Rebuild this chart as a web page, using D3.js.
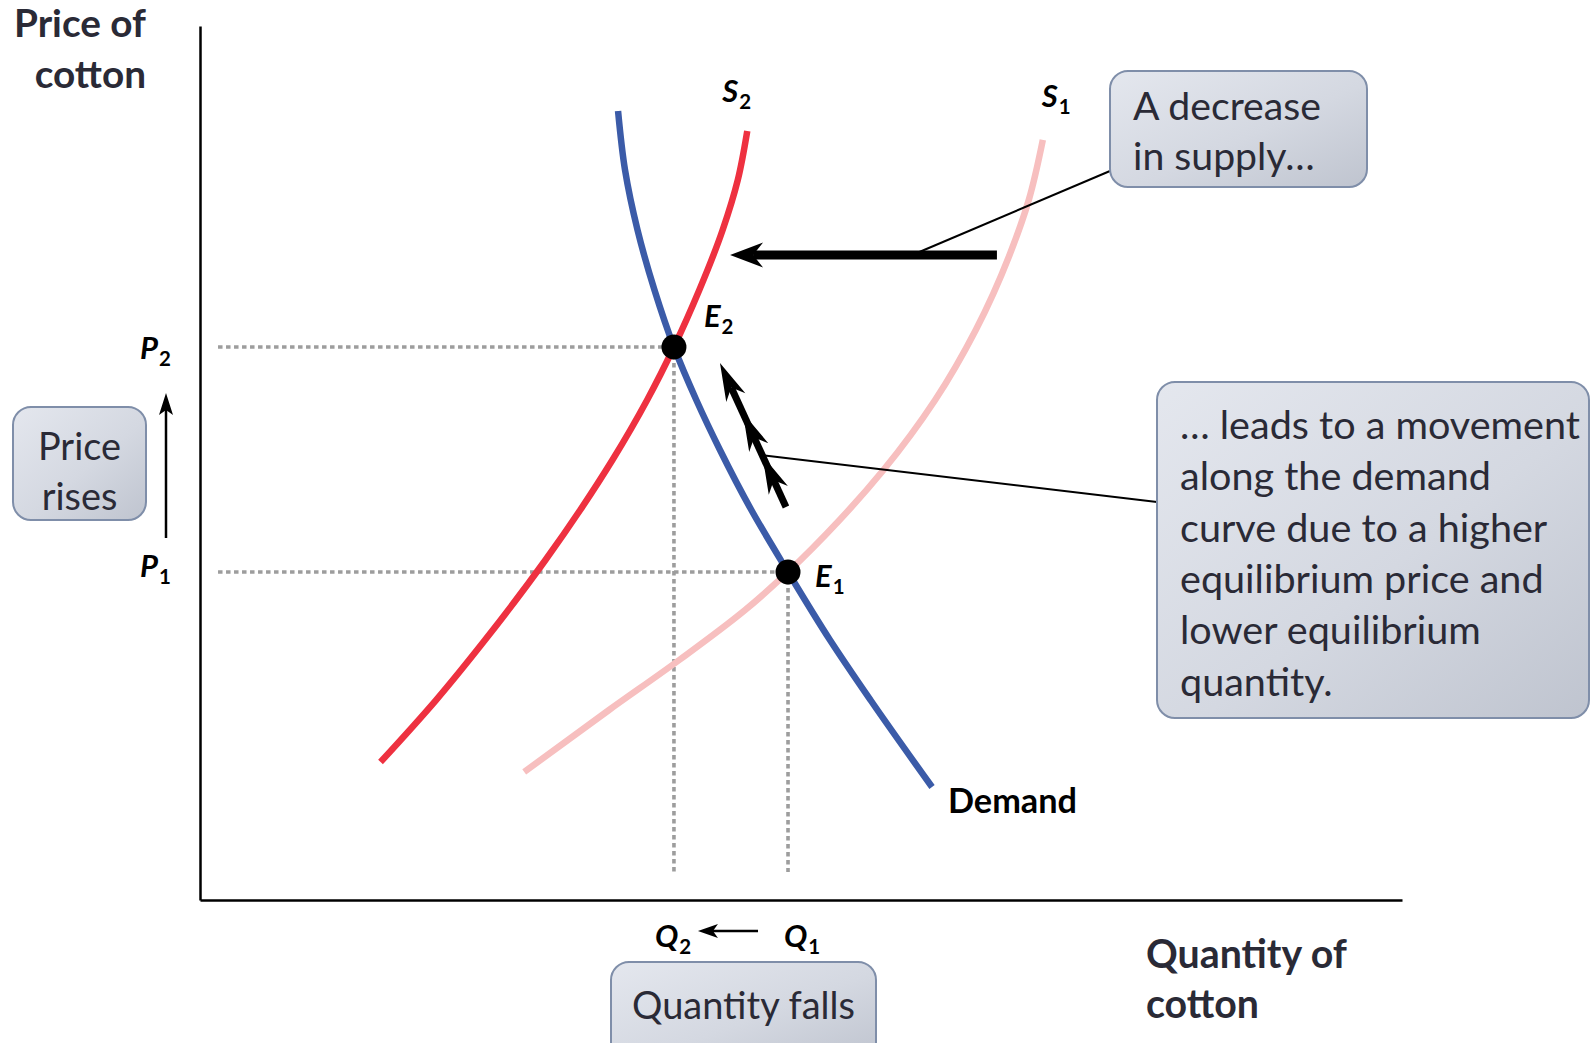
<!DOCTYPE html>
<html><head><meta charset="utf-8">
<script src="https://cdn.jsdelivr.net/npm/d3@7"></script>
<style>body{margin:0;background:#fff}svg{display:block}</style>
</head><body>
<svg id="c" width="1595" height="1043"></svg>
<script>
// ---------- data (quantity, price) in chart units ----------
const quantityDomain = [0, 100];
const priceDomain = [0, 100];
const demandCurve  = [[34.78,90.27],[35.36,83.52],[36.40,76.66],[37.81,69.79],[39.43,63.27],[41.29,57.21],
                      [43.26,51.49],[45.87,44.62],[48.92,37.53],[52.41,29.75],[55.78,22.88],[60.90,12.93]];
const supply2Curve = [[45.53,87.99],[44.74,82.38],[43.48,76.66],[41.54,69.79],[39.43,63.27],[37.20,57.21],
                      [34.31,50.34],[31.63,44.62],[28.74,38.90],[23.71,29.75],[19.64,22.88],[15.02,15.79]];
const supply1Curve = [[70.12,86.96],[68.95,80.09],[67.35,73.80],[64.54,65.22],[61.16,57.21],[56.86,49.20],
                      [53.21,43.48],[48.92,37.53],[45.35,33.18],[39.87,27.46],[34.03,21.74],[26.97,14.65]];
const equilibria = [
  {label:"E", sub:"2", q:39.43, p:63.27},
  {label:"E", sub:"1", q:48.92, p:37.53}
];
const priceTicks = [{label:"P", sub:"2", p:63.27}, {label:"P", sub:"1", p:37.53}];
const quantityTicks = [{label:"Q", sub:"2", q:39.43}, {label:"Q", sub:"1", q:48.92}];
const shiftArrow = {from:[66.3,73.8], to:[44.1,73.8]};
const moveArrow = {from:[48.75,44.97], to:[43.26,61.44]};
const boxTexts = {
  price: ["Price","rises"],
  supply: ["A decrease","in supply…"],
  move: ["… leads to a movement","along the demand","curve due to a higher","equilibrium price and","lower equilibrium","quantity."],
  quantity: ["Quantity falls"]
};

// ---------- setup ----------
const svg = d3.select('#c');
const x = d3.scaleLinear().domain(quantityDomain).range([200,1402]);
const y = d3.scaleLinear().domain(priceDomain).range([900,26]);
const FONT = "Lato, 'Open Sans', sans-serif";
const DARK = "#2a2a36";

const defs = svg.append('defs');
const grad = defs.append('linearGradient').attr('id','boxg')
  .attr('x1','0').attr('y1','0').attr('x2','1').attr('y2','1');
grad.append('stop').attr('offset','0').attr('stop-color','#e4e7ee');
grad.append('stop').attr('offset','0.55').attr('stop-color','#d4d8e1');
grad.append('stop').attr('offset','1').attr('stop-color','#bfc4cf');

function fitText(textSel, refSpan, target){
  textSel.attr('font-size',34);
  const w = refSpan.node().getComputedTextLength();
  textSel.attr('font-size',34*target/w);
}

// ---------- axes ----------
svg.append('g').attr('transform',`translate(0,${y(0)})`)
  .call(d3.axisBottom(x).tickValues([]).tickSizeOuter(0))
  .select('.domain').attr('stroke','#000').attr('stroke-width',2.5);
svg.append('g').attr('transform',`translate(${x(0)},0)`)
  .call(d3.axisLeft(y).tickValues([]).tickSizeOuter(0))
  .select('.domain').attr('stroke','#000').attr('stroke-width',2.5);

// ---------- dotted guides ----------
const guideG = svg.append('g').attr('stroke','#9d9d9d').attr('stroke-width',3.6)
  .attr('stroke-dasharray','4.5,3.5').attr('fill','none');
equilibria.forEach(e=>{
  guideG.append('line').attr('x1',x(1.5)).attr('x2',x(e.q)).attr('y1',y(e.p)).attr('y2',y(e.p));
  guideG.append('line').attr('x1',x(e.q)).attr('x2',x(e.q)).attr('y1',y(e.p)).attr('y2',y(3.2));
});

// ---------- curves ----------
const line = d3.line().x(d=>x(d[0])).y(d=>y(d[1])).curve(d3.curveMonotoneY);
const sortY = c => c.slice().sort((a,b)=>y(a[1])-y(b[1]));
[[supply1Curve,'#f7bfbf'],[supply2Curve,'#ee3140'],[demandCurve,'#3b5ba8']].forEach(([c,col])=>{
  svg.append('path').attr('d',line(sortY(c))).attr('fill','none').attr('stroke',col).attr('stroke-width',6.5);
});

// ---------- equilibrium dots ----------
svg.selectAll('.eq').data(equilibria).enter().append('circle')
  .attr('cx',d=>x(d.q)).attr('cy',d=>y(d.p)).attr('r',12.5).attr('fill','#000');

function subLabel(g, px, py, letter, sub, size, color){
  const t = g.append('text').attr('x',px).attr('y',py).attr('font-family',FONT)
    .attr('font-weight',700).attr('fill',color||'#000').attr('font-size',size);
  t.append('tspan').attr('font-style','italic').text(letter);
  t.append('tspan').attr('font-size',size*0.66).attr('dy',7).attr('dx',1).text(sub);
  return t;
}
const lab = svg.append('g');
subLabel(lab, x(supply2Curve[0][0])-25, y(supply2Curve[0][1])-29, "S","2",31);
subLabel(lab, x(supply1Curve[0][0])-1, y(supply1Curve[0][1])-33, "S","1",31);
subLabel(lab, x(equilibria[0].q)+30, y(equilibria[0].p)-20, "E","2",31);
subLabel(lab, x(equilibria[1].q)+27, y(equilibria[1].p)+15, "E","1",31);
subLabel(lab, 140, y(priceTicks[0].p)+12, priceTicks[0].label, priceTicks[0].sub, 31);
subLabel(lab, 140, y(priceTicks[1].p)+5, priceTicks[1].label, priceTicks[1].sub, 31);
subLabel(lab, x(quantityTicks[0].q)-19, 947, quantityTicks[0].label, quantityTicks[0].sub, 31);
subLabel(lab, x(quantityTicks[1].q)-4, 947, quantityTicks[1].label, quantityTicks[1].sub, 31);

const last = demandCurve[demandCurve.length-1];
const dl = svg.append('text').attr('x',x(last[0])+16).attr('y',y(last[1])+26)
  .attr('font-family',FONT).attr('font-weight',700).attr('fill','#000').text('Demand');
fitText(dl, dl, 129);

const pt = svg.append('text').attr('font-family',FONT).attr('font-weight',700).attr('fill',DARK)
  .attr('text-anchor','end');
const pt1 = pt.append('tspan').attr('x',146).attr('y',37).text('Price of');
pt.append('tspan').attr('x',146).attr('y',88).text('cotton');
fitText(pt, pt1, 132);
const qt = svg.append('text').attr('font-family',FONT).attr('font-weight',700).attr('fill',DARK);
const qt1 = qt.append('tspan').attr('x',1146).attr('y',968).text('Quantity of');
qt.append('tspan').attr('x',1146).attr('y',1018).text('cotton');
fitText(qt, qt1, 201);

// ---------- arrows ----------
function head(g, tip, dir, len, hw, notch){
  const px=-dir[1], py=dir[0];
  const bx=tip[0]-dir[0]*len, by=tip[1]-dir[1]*len;
  const nx=tip[0]-dir[0]*(len-notch), ny=tip[1]-dir[1]*(len-notch);
  g.append('path').attr('d',`M${tip[0]},${tip[1]}L${bx+px*hw},${by+py*hw}L${nx},${ny}L${bx-px*hw},${by-py*hw}Z`)
    .attr('fill','#000');
}
function arrow(g, from, to, width, len, hw, notch, extra){
  const dx=to[0]-from[0], dy=to[1]-from[1], L=Math.hypot(dx,dy);
  const dir=[dx/L, dy/L];
  const end=[to[0]-dir[0]*(len-notch), to[1]-dir[1]*(len-notch)];
  g.append('line').attr('x1',from[0]).attr('y1',from[1]).attr('x2',end[0]).attr('y2',end[1])
    .attr('stroke','#000').attr('stroke-width',width);
  head(g,to,dir,len,hw,notch);
  (extra||[]).forEach(d=>head(g,[to[0]-dir[0]*d,to[1]-dir[1]*d],dir,len,hw,notch));
}
const ag = svg.append('g');
ag.append('line').attr('x1',x(59.6)).attr('y1',y(74.0)).attr('x2',1110).attr('y2',171)
  .attr('stroke','#000').attr('stroke-width',2);
ag.append('line').attr('x1',x(46.8)).attr('y1',y(50.9)).attr('x2',1157).attr('y2',502)
  .attr('stroke','#000').attr('stroke-width',2);
arrow(ag,[x(shiftArrow.from[0]),y(shiftArrow.from[1])],[x(shiftArrow.to[0]),y(shiftArrow.to[1])],9,33,12.5,10);
arrow(ag,[x(moveArrow.from[0]),y(moveArrow.from[1])],[x(moveArrow.to[0]),y(moveArrow.to[1])],7,38,10.5,11,[55,102]);
arrow(ag,[166,y(priceTicks[1].p)-34],[166,y(priceTicks[0].p)+46],2.5,22,7,5);
arrow(ag,[x(quantityTicks[1].q)-30,931],[x(quantityTicks[0].q)+24,931],2.5,20,7,5);

// ---------- boxes ----------
const boxes = [
  {x:13,y:407,w:133,h:113,lines:boxTexts.price,anchor:'middle',tx:79.5,ty:460,lh:50,refW:83},
  {x:1110,y:71,w:257,h:116,lines:boxTexts.supply,anchor:'start',tx:1133,ty:120,lh:50,refW:188},
  {x:1157,y:382,w:432,h:336,lines:boxTexts.move,anchor:'start',tx:1180,ty:439,lh:51.3,refW:400},
  {x:611,y:962,w:265,h:100,lines:boxTexts.quantity,anchor:'middle',tx:743.5,ty:1019,lh:50,refW:223}
];
boxes.forEach(b=>{
  svg.append('rect').attr('x',b.x).attr('y',b.y).attr('width',b.w).attr('height',b.h)
    .attr('rx',18).attr('fill','url(#boxg)').attr('stroke','#7f8ea9').attr('stroke-width',2);
  const t = svg.append('text').attr('font-family',FONT).attr('fill',DARK).attr('text-anchor',b.anchor);
  const spans = b.lines.map((s,i)=>t.append('tspan').attr('x',b.tx).attr('y',b.ty+i*b.lh).text(s));
  fitText(t, spans[0], b.refW);
});
</script>
</body></html>
